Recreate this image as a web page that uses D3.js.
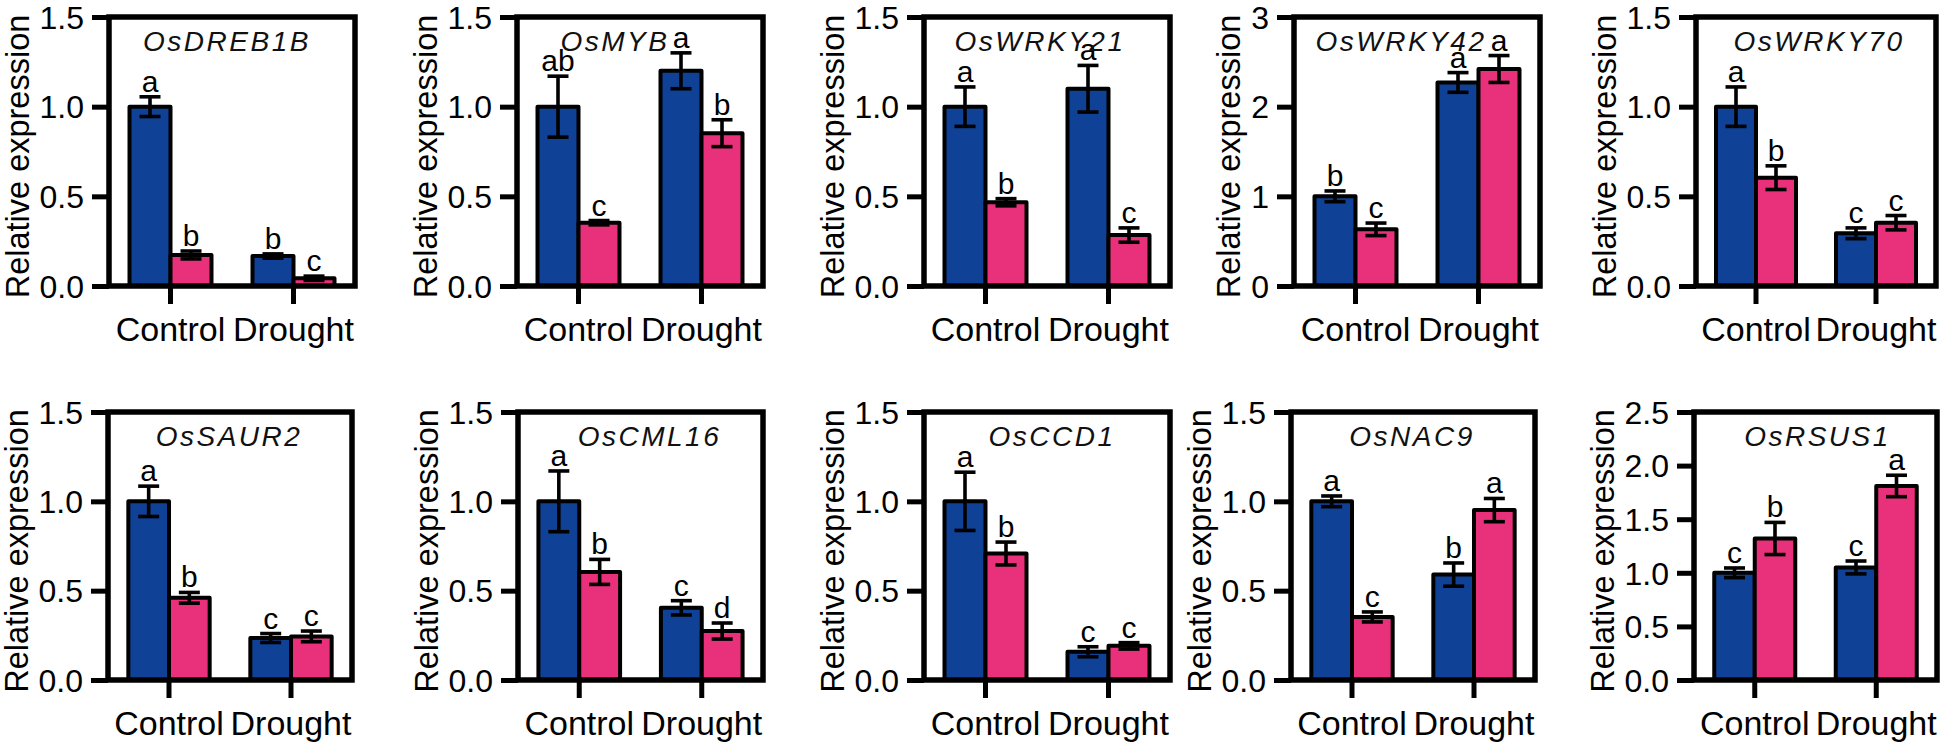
<!DOCTYPE html>
<html>
<head>
<meta charset="utf-8">
<script src="https://cdn.jsdelivr.net/npm/d3@7"></script>
<style>
  html, body { margin: 0; padding: 0; background: #fff; }
  svg { display: block; font-family: "Liberation Sans", Arial, Helvetica, sans-serif; }
</style>
</head>
<body>
<svg id="chart" width="1946" height="748"></svg>
<script>
// ---------------- DATA ----------------
const genes = ["OsDREB1B", "OsMYB", "OsWRKY21", "OsWRKY42", "OsWRKY70",
               "OsSAUR2", "OsCML16", "OsCCD1", "OsNAC9", "OsRSUS1"];
const categories = ["Control", "Drought"];
const seriesNames = ["Series 1", "Series 2"];

// mean values [Control, Drought] per gene
const series1Mean = [[1.00, 0.167], [1.00, 1.20], [1.00, 1.10], [1.00, 2.27], [1.00, 0.294],
                     [1.00, 0.235], [1.00, 0.404], [1.00, 0.158], [1.00, 0.59], [1.00, 1.05]];
const series1Err  = [[0.055, 0.012], [0.17, 0.10], [0.11, 0.13], [0.06, 0.11], [0.11, 0.03],
                     [0.085, 0.025], [0.17, 0.04], [0.163, 0.028], [0.03, 0.065], [0.045, 0.06]];
const series2Mean = [[0.173, 0.043], [0.353, 0.852], [0.467, 0.284], [0.632, 2.42], [0.604, 0.353],
                     [0.46, 0.244], [0.605, 0.274], [0.708, 0.191], [0.353, 0.951], [1.32, 1.81]];
const series2Err  = [[0.022, 0.012], [0.012, 0.075], [0.02, 0.04], [0.07, 0.15], [0.066, 0.04],
                     [0.03, 0.03], [0.07, 0.045], [0.064, 0.018], [0.028, 0.065], [0.15, 0.10]];
const series1Letters = [["a", "b"], ["ab", "a"], ["a", "a"], ["b", "a"], ["a", "c"],
                        ["a", "c"], ["a", "c"], ["a", "c"], ["a", "b"], ["c", "c"]];
const series2Letters = [["b", "c"], ["c", "b"], ["b", "c"], ["c", "a"], ["b", "c"],
                        ["b", "c"], ["b", "d"], ["b", "c"], ["c", "a"], ["b", "a"]];
const yMaxValues = [1.5, 1.5, 1.5, 3, 1.5, 1.5, 1.5, 1.5, 1.5, 2.5];
const yTickValues = [
  [0, 0.5, 1.0, 1.5], [0, 0.5, 1.0, 1.5], [0, 0.5, 1.0, 1.5], [0, 1, 2, 3], [0, 0.5, 1.0, 1.5],
  [0, 0.5, 1.0, 1.5], [0, 0.5, 1.0, 1.5], [0, 0.5, 1.0, 1.5], [0, 0.5, 1.0, 1.5], [0, 0.5, 1.0, 1.5, 2.0, 2.5]
];
const yTickFormats = [".1f", ".1f", ".1f", "d", ".1f", ".1f", ".1f", ".1f", ".1f", ".1f"];
const yAxisTitle = "Relative expression";

// ---------------- LAYOUT ----------------
const panelLeft   = [109, 517, 924, 1294, 1696, 108, 518, 924, 1291, 1694];
const panelRight  = [355, 763, 1170, 1540, 1936, 352, 763, 1170, 1535, 1937];
const rowTop    = [17, 412];
const rowBottom = [286, 680];
const titleShift = [-6, -26, -8, -17, 2, -2, 8, 4, -2, 1];

const colors = ["#0F4196", "#E8317A"];
const FONT = 32;

const svg = d3.select("#chart");

genes.forEach((gene, i) => {
  const row = i < 5 ? 0 : 1;
  const L = panelLeft[i], R = panelRight[i];
  const T = rowTop[row], B = rowBottom[row];

  const y = d3.scaleLinear().domain([0, yMaxValues[i]]).range([B, T]);
  const x0 = d3.scaleBand().domain(categories).range([L, R])
    .paddingInner(1 / 3).paddingOuter(1 / 6);
  const x1 = d3.scaleBand().domain(seriesNames).range([0, x0.bandwidth()]).padding(0);

  const g = svg.append("g").attr("class", "panel");

  const rows = [];
  categories.forEach((c, ci) => {
    rows.push({ cat: c, s: seriesNames[0], mean: series1Mean[i][ci], err: series1Err[i][ci], letter: series1Letters[i][ci], color: colors[0] });
    rows.push({ cat: c, s: seriesNames[1], mean: series2Mean[i][ci], err: series2Err[i][ci], letter: series2Letters[i][ci], color: colors[1] });
  });

  // bars
  g.selectAll("rect.bar").data(rows).join("rect")
    .attr("class", "bar")
    .attr("x", d => x0(d.cat) + x1(d.s))
    .attr("y", d => y(d.mean))
    .attr("width", x1.bandwidth())
    .attr("height", d => y(0) - y(d.mean))
    .attr("fill", d => d.color)
    .attr("stroke", "#000")
    .attr("stroke-width", 4)
    .attr("stroke-linejoin", "round");

  // error bars
  const cx = d => x0(d.cat) + x1(d.s) + x1.bandwidth() / 2;
  const capW = 21;
  const eb = g.selectAll("g.err").data(rows).join("g").attr("class", "err")
    .attr("stroke", "#000").attr("stroke-width", 3.6);
  eb.append("line")
    .attr("x1", cx).attr("x2", cx)
    .attr("y1", d => y(d.mean + d.err)).attr("y2", d => y(d.mean - d.err));
  eb.append("line")
    .attr("x1", d => cx(d) - capW / 2).attr("x2", d => cx(d) + capW / 2)
    .attr("y1", d => y(d.mean + d.err)).attr("y2", d => y(d.mean + d.err));
  eb.append("line")
    .attr("x1", d => cx(d) - capW / 2).attr("x2", d => cx(d) + capW / 2)
    .attr("y1", d => y(d.mean - d.err)).attr("y2", d => y(d.mean - d.err));

  // significance letters
  g.selectAll("text.sig").data(rows).join("text")
    .attr("class", "sig")
    .attr("x", cx)
    .attr("y", d => y(d.mean + d.err) - 5)
    .attr("text-anchor", "middle")
    .attr("font-size", 30)
    .attr("fill", "#000")
    .text(d => d.letter);

  // frame
  g.append("rect")
    .attr("x", L).attr("y", T)
    .attr("width", R - L).attr("height", B - T)
    .attr("fill", "none").attr("stroke", "#000").attr("stroke-width", 5.5);

  // y axis
  const yAxis = g.append("g").attr("transform", `translate(${L},0)`)
    .call(d3.axisLeft(y).tickValues(yTickValues[i]).tickFormat(d3.format(yTickFormats[i]))
      .tickSize(17).tickSizeOuter(0).tickPadding(8));
  yAxis.select(".domain").remove();
  yAxis.selectAll(".tick line").attr("stroke", "#000").attr("stroke-width", 5);
  yAxis.selectAll(".tick text").attr("font-size", FONT).attr("fill", "#000")
    .attr("font-family", null).attr("dy", "0.35em");

  // x axis
  const xAxis = g.append("g").attr("transform", `translate(0,${B})`)
    .call(d3.axisBottom(x0).tickSize(18).tickSizeOuter(0));
  xAxis.select(".domain").remove();
  xAxis.selectAll(".tick line").attr("stroke", "#000").attr("stroke-width", 5);
  xAxis.selectAll(".tick text").attr("font-size", 34).attr("fill", "#000")
    .attr("font-family", null).attr("y", 55).attr("dy", 0);

  // y axis title
  let maxW = 0;
  yAxis.selectAll(".tick text").each(function () { maxW = Math.max(maxW, this.getComputedTextLength()); });
  const ytx = L - 25 - maxW - 11;
  g.append("text")
    .attr("transform", `translate(${ytx},${(T + B) / 2 + 5}) rotate(-90)`)
    .attr("text-anchor", "middle")
    .attr("font-size", 32.5)
    .attr("fill", "#000")
    .text(yAxisTitle);

  // gene title
  g.append("text")
    .attr("x", (L + R) / 2 + titleShift[i] + 1)
    .attr("y", T + 34)
    .attr("text-anchor", "middle")
    .attr("font-size", 28)
    .attr("font-style", "italic")
    .attr("letter-spacing", 2.5)
    .attr("fill", "#111")
    .text(gene);
});
</script>
</body>
</html>
